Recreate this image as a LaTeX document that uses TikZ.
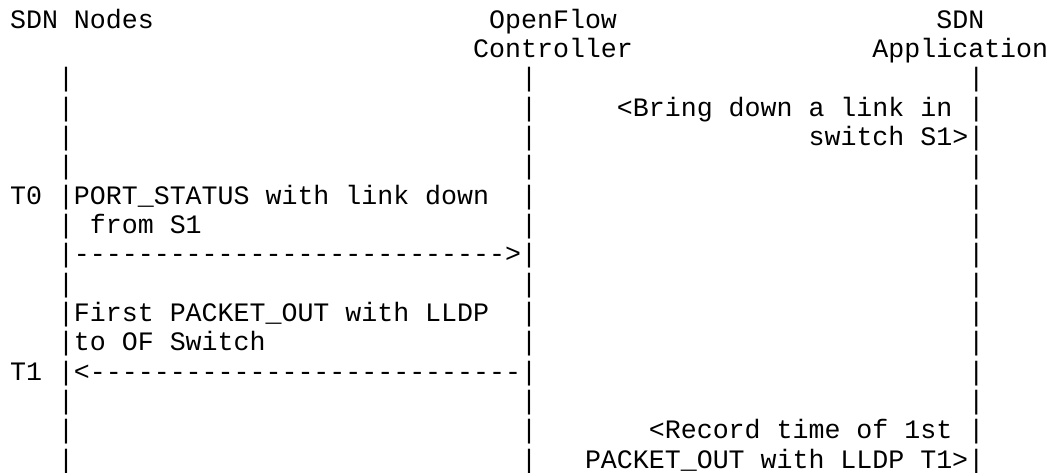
\documentclass[tikz,border=0pt]{standalone}
\usepackage{fontspec}
\setmonofont{Liberation Mono}
\def\cw{15.97}
\def\lh{29.333}
\def\xo{10.1}
\def\yo{28}
\begin{document}
\begin{tikzpicture}[x=1pt,y=1pt,
  txt/.style={anchor=base west,inner sep=0pt,outer sep=0pt,
    font=\ttfamily\fontsize{26.61pt}{29.33pt}\selectfont\frenchspacing}]
\fill[white] (0,0) rectangle (1058,-472);
\useasboundingbox (0,0) rectangle (1058,-472);
% headers
\node[txt] (hA) at ({\xo+0*\cw},{-\yo-0*\lh}) {SDN Nodes};
\node[txt] (hB1) at ({\xo+30*\cw},{-\yo-0*\lh}) {OpenFlow};
\node[txt] (hC1) at ({\xo+58*\cw},{-\yo-0*\lh}) {SDN};
\node[txt] (hB2) at ({\xo+29*\cw},{-\yo-1*\lh}) {Controller};
\node[txt] (hC2) at ({\xo+54*\cw},{-\yo-1*\lh}) {Application};
% lifelines (ASCII bars)
\foreach \r in {3,...,16}{
  \node[txt] (l\r) at ({\xo+3*\cw},{-\yo-(\r-1)*\lh}) {|};
  \node[txt] (m\r) at ({\xo+32*\cw},{-\yo-(\r-1)*\lh}) {|};
  \node[txt] (r\r) at ({\xo+60*\cw},{-\yo-(\r-1)*\lh}) {|};
}
% notes at SDN application
\node[txt] (n1) at ({\xo+38*\cw},{-\yo-3*\lh}) {<Bring down a link in};
\node[txt] (n2) at ({\xo+50*\cw},{-\yo-4*\lh}) {switch S1>};
% T0 message
\node[txt] (t0) at ({\xo+0*\cw},{-\yo-6*\lh}) {T0};
\node[txt] (m1a) at ({\xo+4*\cw},{-\yo-6*\lh}) {PORT\_STATUS with link down};
\node[txt] (m1b) at ({\xo+5*\cw},{-\yo-7*\lh}) {from S1};
\node[txt] (a1) at ({\xo+4*\cw},{-\yo-8*\lh}) {--------------------------->};
% T1 message
\node[txt] (m2a) at ({\xo+4*\cw},{-\yo-10*\lh}) {First PACKET\_OUT with LLDP};
\node[txt] (m2b) at ({\xo+4*\cw},{-\yo-11*\lh}) {to OF Switch};
\node[txt] (t1) at ({\xo+0*\cw},{-\yo-12*\lh}) {T1};
\node[txt] (a2) at ({\xo+4*\cw},{-\yo-12*\lh}) {<---------------------------};
% record note
\node[txt] (n3) at ({\xo+40*\cw},{-\yo-14*\lh}) {<Record time of 1st};
\node[txt] (n4) at ({\xo+36*\cw},{-\yo-15*\lh}) {PACKET\_OUT with LLDP T1>};
\end{tikzpicture}
\end{document}
